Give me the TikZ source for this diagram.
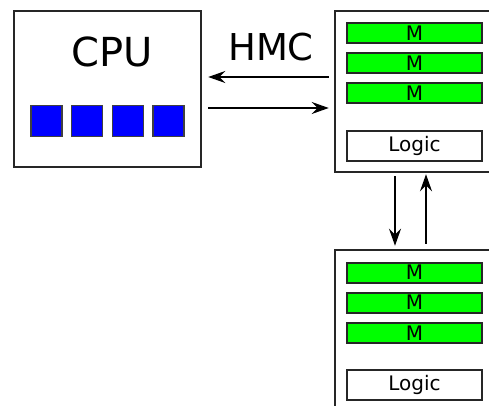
\documentclass[tikz,border=0pt]{standalone}
\usepackage{fontspec}
\setmainfont{DejaVu Sans}
\usetikzlibrary{arrows.meta}

\tikzset{
	box/.style={draw=black!85, line width=2.5pt, fill=white, inner sep=0pt},
	core/.style={draw=black!75, fill=blue, line width=1.6pt, minimum size=31pt, inner sep=0pt},
	mem/.style={draw=black!85, fill=green, line width=2pt, minimum width=135pt, minimum height=20pt, inner sep=0pt, font=\fontsize{20}{20}\selectfont},
	logic/.style={mem, fill=white, minimum height=30pt},
	link/.style={line width=1.4pt, -{Stealth[length=17pt,width=12pt,inset=6pt]}}
}

\begin{document}
\begin{tikzpicture}[x=1pt, y=-1pt]
			%%%%% START %%%%%
			\useasboundingbox (0, 0) rectangle (489, 406);
			\clip (0, 0) rectangle (489, 406);
			
			\node[box, minimum width=187pt, minimum height=156pt] (cpu) at (107.5, 89) {};
			\node[font=\fontsize{40}{44}\selectfont] (cpulabel) at (112, 52) {CPU};
			\node[core] (c1) at (46.5, 121) {};
			\node[core] (c2) at (87, 121) {};
			\node[core] (c3) at (128, 121) {};
			\node[core] (c4) at (168.5, 121) {};
			
			\node[box, minimum width=165pt, minimum height=161pt] (hmcA) at (417.5, 91.5) {};
			\node[mem] (mA1) at (414.5, 33) {M};
			\node[mem] (mA2) at (414.5, 63) {M};
			\node[mem] (mA3) at (414.5, 93.5) {M};
			\node[logic] (lA) at (414.5, 146) {Logic};
			
			\node[box, minimum width=165pt, minimum height=170pt] (hmcB) at (417.5, 335) {};
			\node[mem] (mB1) at (414.5, 272.5) {M};
			\node[mem] (mB2) at (414.5, 302.5) {M};
			\node[mem] (mB3) at (414.5, 333) {M};
			\node[logic] (lB) at (414.5, 385) {Logic};
			
			\node[font=\fontsize{37}{40}\selectfont] (hmclabel) at (271, 47) {HMC};
			
			\draw[link, shorten <=5pt, shorten >=6pt] ([yshift=14.5pt]hmcA.west) -- ([yshift=14.5pt]hmcA.west -| cpu.east);
			\draw[link, shorten <=6pt, shorten >=5pt] ([yshift=-16.5pt]hmcA.west -| cpu.east) -- ([yshift=-16.5pt]hmcA.west);
			
			\draw[link, shorten <=3pt, shorten >=3pt] ([xshift=-22.5pt]hmcA.south) -- ([xshift=-22.5pt]hmcB.north);
			\draw[link, shorten <=5pt, shorten >=1pt] ([xshift=8.5pt]hmcB.north) -- ([xshift=8.5pt]hmcA.south);
			
			%%%%% END %%%%%
\end{tikzpicture}
\end{document}
